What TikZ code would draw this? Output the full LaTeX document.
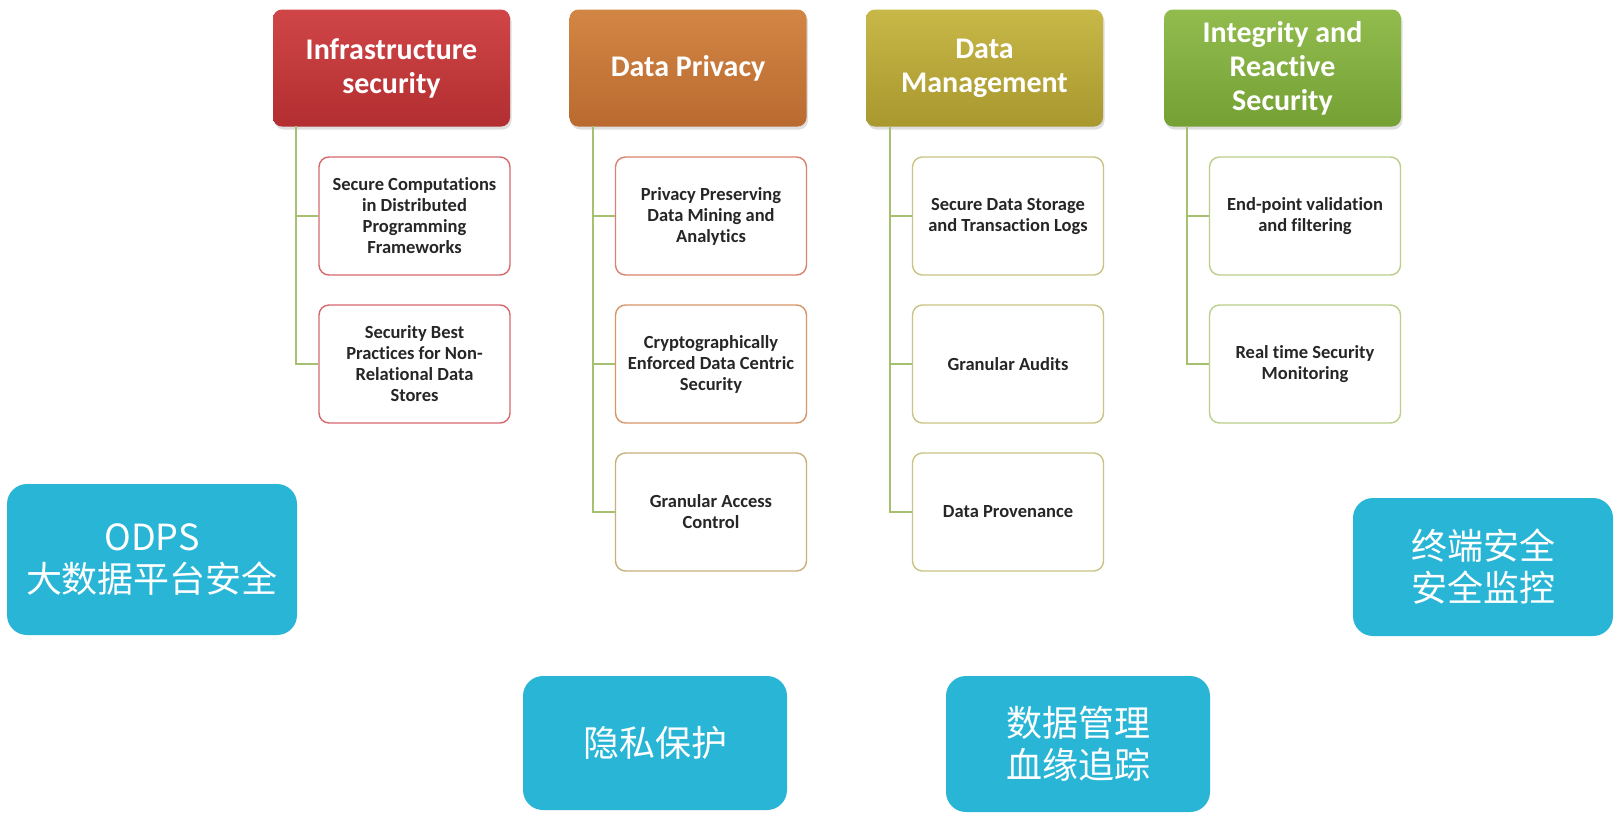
\documentclass[tikz,border=0pt]{standalone}
\usepackage{fontspec}
\setmainfont{Carlito}[Ligatures=NoCommon]
\newfontfamily\cjk{Noto Sans CJK SC}
\usetikzlibrary{shadows}
\definecolor{treec}{RGB}{165,192,110}
\definecolor{cyanb}{RGB}{41,182,214}
\definecolor{kidA}{RGB}{214,104,110}
\definecolor{kidB1}{RGB}{217,130,112}
\definecolor{kidB2}{RGB}{214,150,104}
\definecolor{kidB3}{RGB}{200,176,122}
\definecolor{kidC}{RGB}{200,196,130}
\definecolor{kidD}{RGB}{185,207,138}
\begin{document}
\begin{tikzpicture}[x=1pt,y=-1pt,
  hdr/.style={rounded corners=9pt, minimum width=237pt, minimum height=117pt,
    text=white, align=center, font=\fontsize{30}{34}\selectfont\bfseries,
    drop shadow={opacity=0.25,shadow xshift=1.5pt,shadow yshift=-3pt}, inner sep=2pt},
  kid/.style={draw, line width=1.4pt, fill=white, rounded corners=10pt,
    minimum width=191pt, minimum height=118pt, align=center, text=black!85,
    font=\fontsize{18.5}{21}\selectfont\bfseries, inner sep=2pt},
  tree/.style={draw=treec, line width=2pt},
  cyanbox/.style={fill=cyanb, rounded corners=20pt, text=white, align=center,
    font=\cjk\fontsize{36}{42}\selectfont, inner sep=2pt}]
\useasboundingbox (0,0) rectangle (1615,812);
\fill[white] (0,0) rectangle (1615,812);

% headers
\node[hdr, top color={rgb,255:red,208;green,70;blue,72}, bottom color={rgb,255:red,178;green,46;blue,48}] (hA) at (391.5,68) {Infrastructure\\security};
\node[hdr, top color={rgb,255:red,210;green,134;blue,68}, bottom color={rgb,255:red,186;green,106;blue,48}] (hB) at (688,68) {Data Privacy};
\node[hdr, top color={rgb,255:red,200;green,184;blue,72}, bottom color={rgb,255:red,168;green,152;blue,46}] (hC) at (984.5,68) {Data\\Management};
\node[hdr, top color={rgb,255:red,146;green,188;blue,78}, bottom color={rgb,255:red,116;green,160;blue,52}] (hD) at (1282.5,68) {Integrity and\\Reactive\\Security};

% children
\node[kid, draw=kidA] (a1) at (414.5,216) {Secure Computations\\in Distributed\\Programming\\Frameworks};
\node[kid, draw=kidA] (a2) at (414.5,364) {Security Best\\Practices for Non-\\Relational Data\\Stores};

\node[kid, draw=kidB1] (b1) at (711,216) {Privacy Preserving\\Data Mining and\\Analytics};
\node[kid, draw=kidB2] (b2) at (711,364) {Cryptographically\\Enforced Data Centric\\Security};
\node[kid, draw=kidB3] (b3) at (711,512) {Granular Access\\Control};

\node[kid, draw=kidC] (c1) at (1008,216) {Secure Data Storage\\and Transaction Logs};
\node[kid, draw=kidC] (c2) at (1008,364) {Granular Audits};
\node[kid, draw=kidC] (c3) at (1008,512) {Data Provenance};

\node[kid, draw=kidD] (d1) at (1305,216) {End-point validation\\and filtering};
\node[kid, draw=kidD] (d2) at (1305,364) {Real time Security\\Monitoring};

% tree connectors
\coordinate (tA) at (296,126);
\coordinate (tB) at (593,126);
\coordinate (tC) at (890,126);
\coordinate (tD) at (1187,126);
\draw[tree] (tA) |- (a1.west);
\draw[tree] (tA) |- (a2.west);
\draw[tree] (tB) |- (b1.west);
\draw[tree] (tB) |- (b2.west);
\draw[tree] (tB) |- (b3.west);
\draw[tree] (tC) |- (c1.west);
\draw[tree] (tC) |- (c2.west);
\draw[tree] (tC) |- (c3.west);
\draw[tree] (tD) |- (d1.west);
\draw[tree] (tD) |- (d2.west);

% cyan boxes
\node[cyanbox, minimum width=290pt, minimum height=151pt] (e1) at (152,559.5) {ODPS\\大数据平台安全};
\node[cyanbox, minimum width=264pt, minimum height=134pt] (e2) at (655,743) {隐私保护};
\node[cyanbox, minimum width=264pt, minimum height=136pt] (e3) at (1078,744) {数据管理\\血缘追踪};
\node[cyanbox, minimum width=260pt, minimum height=138pt] (e4) at (1483,567) {终端安全\\安全监控};
\end{tikzpicture}
\end{document}
